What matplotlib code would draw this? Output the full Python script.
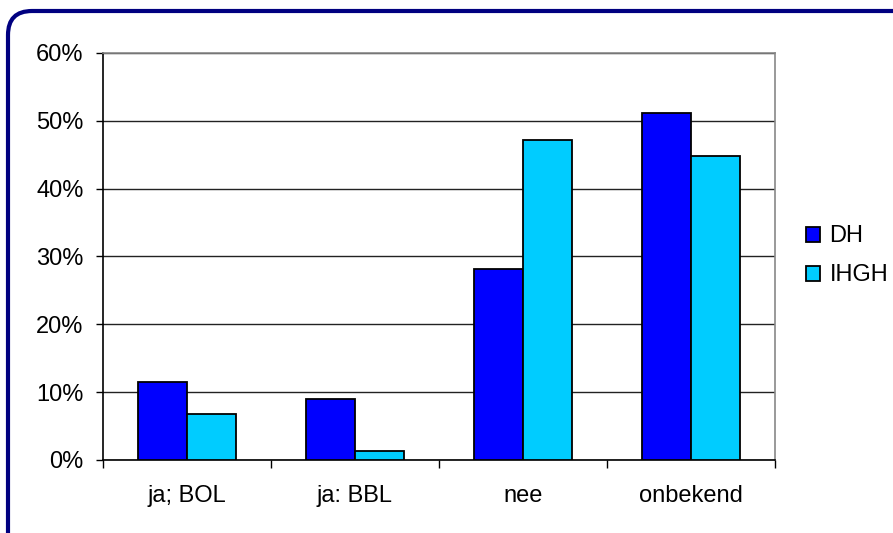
import matplotlib
matplotlib.use("Agg")
import matplotlib.pyplot as plt
import numpy as np
from matplotlib.patches import FancyBboxPatch
from matplotlib.ticker import FuncFormatter

plt.rcParams['font.family'] = ['Liberation Sans', 'DejaVu Sans']

categories = ['ja; BOL', 'ja: BBL', 'nee', 'onbekend']
dh = [11.5, 9.0, 28.2, 51.2]
ihgh = [6.8, 1.3, 47.1, 44.8]
series_names = ['DH', 'IHGH']
colors = ['#0000FF', '#00CCFF']

fig = plt.figure(figsize=(8.93, 5.33), dpi=100)
ax = fig.add_axes([0.1153, 0.137, 0.8679 - 0.1153, 0.9006 - 0.137])

# outer rounded frame, cut off at right and bottom like the original
frame = FancyBboxPatch((0.08, -0.3), 9.3, 5.22 + 0.3, boxstyle="round,pad=0,rounding_size=0.24",
                       transform=fig.dpi_scale_trans, facecolor='none', edgecolor='#000080',
                       linewidth=3, zorder=10, clip_on=False)
fig.patches.append(frame)

x = np.arange(len(categories))
w = 0.29
ax.bar(x - w / 2, dh, w, color=colors[0], edgecolor='black', linewidth=1.3, label=series_names[0], zorder=3)
ax.bar(x + w / 2, ihgh, w, color=colors[1], edgecolor='black', linewidth=1.3, label=series_names[1], zorder=3)

ax.set_xlim(-0.5, len(categories) - 0.5)
ax.set_ylim(0, 60)
ax.set_yticks(np.arange(0, 61, 10))
ax.yaxis.set_major_formatter(FuncFormatter(lambda v, p: '%d%%' % v))
ax.yaxis.grid(True, color='#222222', linewidth=1)
ax.set_axisbelow(True)

ax.set_xticks(np.arange(-0.5, len(categories), 1))
ax.set_xticklabels([])
ax.set_xticks(x, minor=True)
ax.set_xticklabels(categories, minor=True)
ax.tick_params(axis='x', which='minor', length=0, pad=18, labelsize=17)
ax.tick_params(axis='x', which='major', length=6, width=1)
ax.tick_params(axis='y', length=5, width=1, pad=9, labelsize=17)

ax.spines['left'].set_color('black')
ax.spines['bottom'].set_color('black')
ax.spines['top'].set_color('#888888')
ax.spines['right'].set_color('#888888')
for s in ax.spines.values():
    s.set_linewidth(1.2)

leg = ax.legend(loc='center left', bbox_to_anchor=(0.892, 0.52), bbox_transform=fig.transFigure,
                frameon=False, fontsize=17, handlelength=0.6, handleheight=0.6,
                handletextpad=0.4, labelspacing=0.72, borderaxespad=0)

fig.savefig('out.png', dpi=100)
